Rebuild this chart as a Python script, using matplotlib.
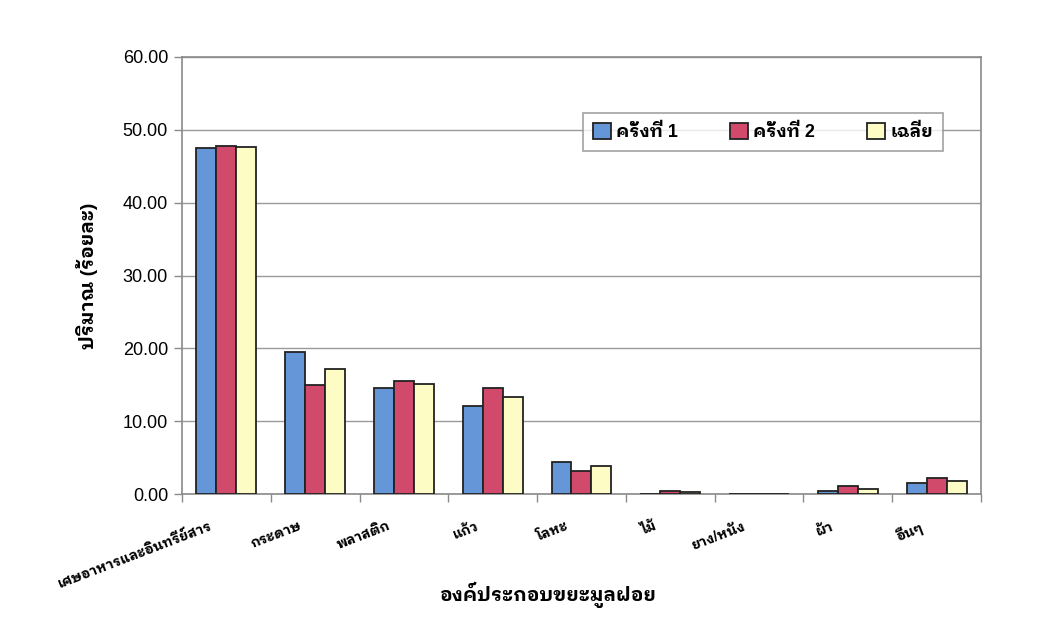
import matplotlib
matplotlib.use("Agg")
import matplotlib.pyplot as plt
import numpy as np
from matplotlib.ticker import MultipleLocator, FormatStrFormatter

plt.rcParams['font.family'] = ['Liberation Sans', 'IBM Plex Sans Thai Looped']

# ประเภทขยะ
categories = ['เศษอาหารและอินทรีย์สาร', 'กระดาษ', 'พลาสติก', 'แก้ว', 'โลหะ',
              'ไม้', 'ยาง/หนัง', 'ผ้า', 'อื่นๆ']
round1 = [47.5, 19.5, 14.6, 12.1, 4.4, 0.02, 0.02, 0.4, 1.45]
round2 = [47.8, 14.9, 15.5, 14.5, 3.2, 0.45, 0.02, 1.1, 2.15]
average = [47.65, 17.2, 15.1, 13.3, 3.8, 0.22, 0.02, 0.75, 1.75]
series_names = ['ครั้งที่ 1', 'ครั้งที่ 2', 'เฉลี่ย']
series_colors = ['#6496d8', '#d14a6c', '#fcfcc4']

fig = plt.figure(figsize=(10.64, 6.29), dpi=100)
ax = fig.add_axes([0.171, 0.2146, 0.751, 0.6948])

x = np.arange(len(categories))
w = 0.225
for i, (vals, name, col) in enumerate(zip([round1, round2, average], series_names, series_colors)):
    ax.bar(x + (i - 1) * w, vals, width=w, color=col, edgecolor='#222222',
           linewidth=1.3, label=name, zorder=3)

ax.set_xlim(-0.5, len(categories) - 0.5)
ax.set_ylim(0, 60)
ax.yaxis.set_major_locator(MultipleLocator(10))
ax.yaxis.set_major_formatter(FormatStrFormatter('%.2f'))
ax.grid(axis='y', color='#9a9a9a', linewidth=1.0, zorder=0)

for s in ax.spines.values():
    s.set_color('#8a8a8a')
    s.set_linewidth(1.2)

# ขีดแบ่งหมวดบนแกน x อยู่ระหว่างกลุ่มแท่ง
ax.set_xticks(np.arange(len(categories) + 1) - 0.5)
ax.set_xticklabels([])
ax.tick_params(axis='x', which='major', length=6, color='#8a8a8a', width=1)
# ป้ายชื่อหมวดเอียง ปลายข้อความเยื้องซ้ายจากกึ่งกลางกลุ่มเล็กน้อย
ax.set_xticks(x - 0.19, minor=True)
ax.set_xticklabels(categories, minor=True, rotation=21, ha='right',
                   rotation_mode='anchor', fontsize=10, fontweight='bold')
ax.tick_params(axis='x', which='minor', length=0, pad=18)
ax.tick_params(axis='y', length=6, color='#8a8a8a', width=1, labelsize=13, pad=4)

ax.set_ylabel('ปริมาณ (ร้อยละ)', fontsize=14, fontweight='bold')
ax.yaxis.set_label_coords(-0.105, 0.5)
ax.set_xlabel('องค์ประกอบขยะมูลฝอย', fontsize=14, fontweight='bold')
ax.xaxis.set_label_coords(0.458, -0.2)

leg = ax.legend(loc='upper left', bbox_to_anchor=(0.502, 0.872), ncol=3,
                frameon=True, fancybox=False, edgecolor='#8a8a8a',
                prop={'size': 13, 'weight': 'bold'}, handlelength=1.0,
                handleheight=1.0, handletextpad=0.3, columnspacing=2.85,
                borderpad=0.55, borderaxespad=0)
leg.get_frame().set_linewidth(1.2)
leg.set_zorder(5)

fig.savefig('out.png', dpi=100, facecolor='white')
